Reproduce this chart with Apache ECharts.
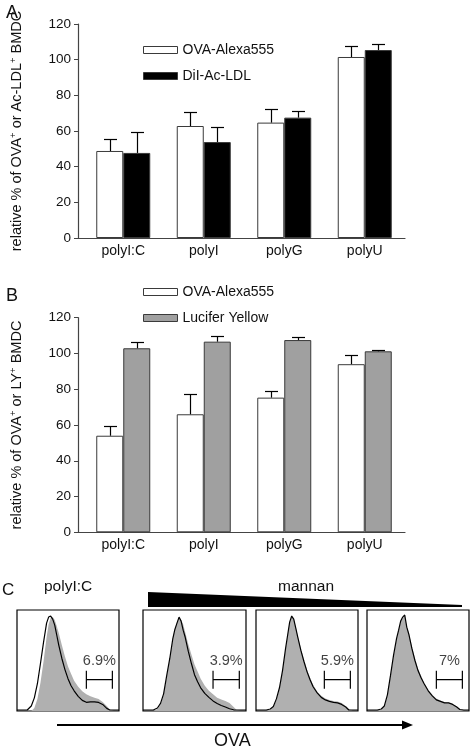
<!DOCTYPE html>
<html><head><meta charset="utf-8">
<script src="https://cdn.jsdelivr.net/npm/echarts@6/dist/echarts.min.js"></script>
<style>html,body{margin:0;padding:0;background:#fff}#c{width:470px;height:748px}</style>
</head><body><div id="c"></div>
<script>
// ---- Data ----
const categories = ['polyI:C', 'polyI', 'polyG', 'polyU'];
const yMin = 0, yMax = 120, yStep = 20;

const aOvaMean = [48.8, 62.8, 64.7, 101.5];
const aOvaErr  = [6.5, 7.9, 7.5, 6.4];
const aLdlMean = [47.7, 53.8, 67.5, 105.4];
const aLdlErr  = [11.6, 8.3, 3.9, 3.6];

const bOvaMean = [54.0, 66.0, 75.3, 94.0];
const bOvaErr  = [5.6, 11.2, 3.6, 5.3];
const bLyMean  = [102.9, 106.6, 107.5, 101.2];
const bLyErr   = [3.4, 3.0, 1.7, 0.9];

// flow histograms (x: OVA fluorescence, relative 0-100 ; y: % of max)
const histBins = [0,10,14,17,20,23,26,29,31,33,35,37,39,41,44,47,50,53,56,60,64,68,72,76,80,84,88,91,95,100];
const h1Line = [1,1,5,13,27,47,68,87,93,94,91,85,75,65,52,41,32,25,20,14.5,10.5,8.6,9,9,8.5,6.5,2.6,1,1,1];
const h1Fill = [0,0,0,3,12,28,49,73,86,92,93,90,84,77,65,54,44,37,30,24,19.5,16.5,14.5,13,12,9,5,1.5,0,0];
const h2Line = [1,1,3,7.5,17,35,52,72,81,87,93,89,80,73,59,47,36,29,23,17.5,13.5,10,7.5,5.5,4,2.2,1.2,1,1,1];
const h2Fill = [0,0,2,6.5,16,34,52,72,81,88,92.5,90,86,78,66,56,46,39,32,25,20,16.5,13,11.5,10,8,4,1,0,0];
const h3Line = [1,1,2,4.5,12,23,40,62,75,88,94,91,82,73,60,49,39,31,24,18,13.5,11,9.5,8.5,8,6.5,4,1,1,1];
const h3Fill = [0,0,1.5,4,11,22,39,61,75,88,93,91,83,74,62,51,41,33,26,19,15,12.5,11,10,9.5,8,5,2,0,0];
const h4Line = [1,1,2,5,16,35,55,72,80,89,93,95,83,76,62,50,40,33,27,20,15,11,9.5,8,8,6.5,4,1.5,1,1];
const h4Fill = [0,0,1.5,4.5,15,34,54,71,80,88,92,94,84,77,64,52,42,35,28,21,16,12.5,10.5,9,8.5,7,4.5,2,0,0];
const gateStart = [68, 68, 67, 68];
const gateEnd   = [93.5, 93.5, 92.5, 93.5];
const gateLevel = 31;
const gateText  = ['6.9%', '3.9%', '5.9%', '7%'];

// ---- Styling ----
const FF = '"Liberation Sans", Arial, Helvetica, sans-serif';
const TXT = '#111';
const AX = '#444';
const BAR_W = 27;

function zip(xs, ys) { return xs.map((x, i) => [x, ys[i]]); }

function errSeries(xi, yi, means, errs, side) {
  return {
    type: 'custom', xAxisIndex: xi, yAxisIndex: yi, z: 5, silent: true,
    data: means.map((m, i) => [i, m, m + errs[i]]),
    renderItem: function (params, api) {
      const base = api.coord([api.value(0), api.value(1)]);
      const top = api.coord([api.value(0), api.value(2)]);
      const x = Math.round(base[0] + side * BAR_W / 2) + 0.5;
      const ty = Math.round(top[1]) + 0.5;
      const st = { stroke: '#000', lineWidth: 1.2 };
      return { type: 'group', children: [
        { type: 'line', shape: { x1: x, y1: base[1], x2: x, y2: ty }, style: st },
        { type: 'line', shape: { x1: x - 6.5, y1: ty, x2: x + 6.5, y2: ty }, style: st }
      ]};
    }
  };
}

function yName(second) {
  return '{a|relative % of OVA}{s|+}{a| or ' + second + '}{s|+}{a| BMDC}';
}
const nameRich = {
  a: { fontSize: 14.5, fontFamily: FF, color: TXT, lineHeight: 18 },
  s: { fontSize: 9.5, fontFamily: FF, color: TXT, lineHeight: 10, verticalAlign: 'top' }
};

const panelTop = [24, 317.7];
const panelH = [214, 214.6];
const grids = [];
const xAxes = [];
const yAxes = [];
[0, 1].forEach(p => {
  grids.push({ left: 77, top: panelTop[p], width: 328, height: panelH[p] });
  grids.push({ left: 83, top: panelTop[p], width: 322, height: panelH[p] });
  xAxes.push({ gridIndex: 2 * p, type: 'value', min: 0, max: 1,
    axisLine: { show: true, lineStyle: { color: AX, width: 1.2 } },
    axisTick: { show: false }, axisLabel: { show: false }, splitLine: { show: false } });
  xAxes.push({ gridIndex: 2 * p + 1, type: 'category', data: categories,
    axisLine: { show: false }, axisTick: { show: false },
    axisLabel: { fontSize: 14, fontFamily: FF, color: TXT, margin: 6 } });
  yAxes.push({ gridIndex: 2 * p, type: 'value', min: yMin, max: yMax, interval: yStep,
    axisLine: { show: true, lineStyle: { color: AX, width: 1.2 } },
    axisTick: { show: true, length: 4, lineStyle: { color: AX } },
    axisLabel: { fontSize: 13.5, fontFamily: FF, color: TXT, margin: 7 },
    splitLine: { show: false },
    name: yName(p === 0 ? 'Ac-LDL' : 'LY'), nameLocation: 'middle', nameGap: 52,
    nameTextStyle: { rich: nameRich } });
  yAxes.push({ gridIndex: 2 * p + 1, type: 'value', min: yMin, max: yMax, show: false });
});

const boxLeft = [17, 143, 256, 367];
const boxW = [102, 103, 102, 102];
boxLeft.forEach((l, k) => {
  grids.push({ left: l, top: 610, width: boxW[k], height: 101, show: true,
    borderColor: '#000', borderWidth: 1.2, backgroundColor: '#fff' });
  xAxes.push({ gridIndex: 4 + k, type: 'value', min: 0, max: 100, show: false });
  yAxes.push({ gridIndex: 4 + k, type: 'value', min: 0, max: 100, show: false });
});

const barBorder = { borderColor: '#3a3a3a', borderWidth: 1 };
const series = [
  { name: 'OVA-Alexa555', type: 'bar', xAxisIndex: 1, yAxisIndex: 1, data: aOvaMean,
    barWidth: BAR_W, barGap: '0%', itemStyle: Object.assign({ color: '#fff' }, barBorder) },
  { name: 'DiI-Ac-LDL', type: 'bar', xAxisIndex: 1, yAxisIndex: 1, data: aLdlMean,
    barWidth: BAR_W, barGap: '0%', itemStyle: Object.assign({ color: '#000' }, barBorder) },
  errSeries(1, 1, aOvaMean, aOvaErr, -1),
  errSeries(1, 1, aLdlMean, aLdlErr, 1),
  { name: 'OVA-Alexa555', type: 'bar', xAxisIndex: 3, yAxisIndex: 3, data: bOvaMean,
    barWidth: BAR_W, barGap: '0%', itemStyle: Object.assign({ color: '#fff' }, barBorder) },
  { name: 'Lucifer Yellow', type: 'bar', xAxisIndex: 3, yAxisIndex: 3, data: bLyMean,
    barWidth: BAR_W, barGap: '0%', itemStyle: Object.assign({ color: '#a0a0a0' }, barBorder) },
  errSeries(3, 3, bOvaMean, bOvaErr, -1),
  errSeries(3, 3, bLyMean, bLyErr, 1)
];

const fills = [h1Fill, h2Fill, h3Fill, h4Fill];
const lines = [h1Line, h2Line, h3Line, h4Line];
for (let k = 0; k < 4; k++) {
  series.push({ type: 'line', xAxisIndex: 4 + k, yAxisIndex: 4 + k, data: zip(histBins, fills[k]),
    symbol: 'none', silent: true, lineStyle: { width: 0 }, areaStyle: { color: '#b0b0b0', opacity: 1 }, z: 2 });
  series.push({ type: 'line', xAxisIndex: 4 + k, yAxisIndex: 4 + k, data: zip(histBins, lines[k]),
    symbol: 'none', silent: true, lineStyle: { width: 1.2, color: '#000' }, z: 3 });
  series.push({ type: 'line', xAxisIndex: 4 + k, yAxisIndex: 4 + k,
    data: [[gateStart[k], gateLevel], [gateEnd[k], gateLevel]],
    symbol: 'rect', symbolSize: [1.2, 18], showAllSymbol: true, silent: true,
    itemStyle: { color: '#000' }, lineStyle: { width: 1.2, color: '#000' }, z: 4 });
  series.push({ type: 'scatter', xAxisIndex: 4 + k, yAxisIndex: 4 + k,
    data: [[(gateStart[k] + gateEnd[k]) / 2, gateLevel]], symbolSize: 0, silent: true,
    label: { show: true, position: 'top', distance: 11, formatter: gateText[k],
      fontSize: 14.5, fontFamily: FF, color: TXT } });
}

const titleStyle = (size) => ({ fontSize: size, fontWeight: 'normal', fontFamily: FF, color: TXT });
const legendBase = {
  orient: 'vertical', left: 143, icon: 'rect',
  itemWidth: 34, itemHeight: 7, itemGap: 12, selectedMode: false, padding: 0,
  itemStyle: { borderColor: '#3a3a3a', borderWidth: 1 },
  textStyle: { fontSize: 14, fontFamily: FF, color: TXT }
};
const option = {
  animation: false,
  backgroundColor: '#fff',
  title: [
    { text: 'A', left: 6, top: 4, padding: 0, textStyle: titleStyle(18) },
    { text: 'B', left: 6, top: 287, padding: 0, textStyle: titleStyle(18) },
    { text: 'C', left: 2, top: 582, padding: 0, textStyle: titleStyle(17) },
    { text: 'polyI:C', left: 44, top: 579, padding: 0, textStyle: titleStyle(15.5) },
    { text: 'mannan', left: 278, top: 579, padding: 0, textStyle: titleStyle(15.5) },
    { text: 'OVA', left: 214, top: 732, padding: 0, textStyle: titleStyle(18) }
  ],
  legend: [
    Object.assign({ data: ['OVA-Alexa555', 'DiI-Ac-LDL'], top: 43 }, legendBase),
    Object.assign({ data: ['OVA-Alexa555', 'Lucifer Yellow'], top: 285 }, legendBase)
  ],
  grid: grids, xAxis: xAxes, yAxis: yAxes, series: series,
  graphic: [
    { type: 'polygon', shape: { points: [[148, 592], [462, 605], [462, 607], [148, 607]] }, style: { fill: '#000' } },
    { type: 'line', shape: { x1: 57, y1: 725, x2: 405, y2: 725 }, style: { stroke: '#000', lineWidth: 2 } },
    { type: 'polygon', shape: { points: [[402, 720.5], [413, 725], [402, 729.5]] }, style: { fill: '#000' } }
  ]
};
const chart = echarts.init(document.getElementById('c'), null, { renderer: 'canvas' });
chart.setOption(option);
</script></body></html>
